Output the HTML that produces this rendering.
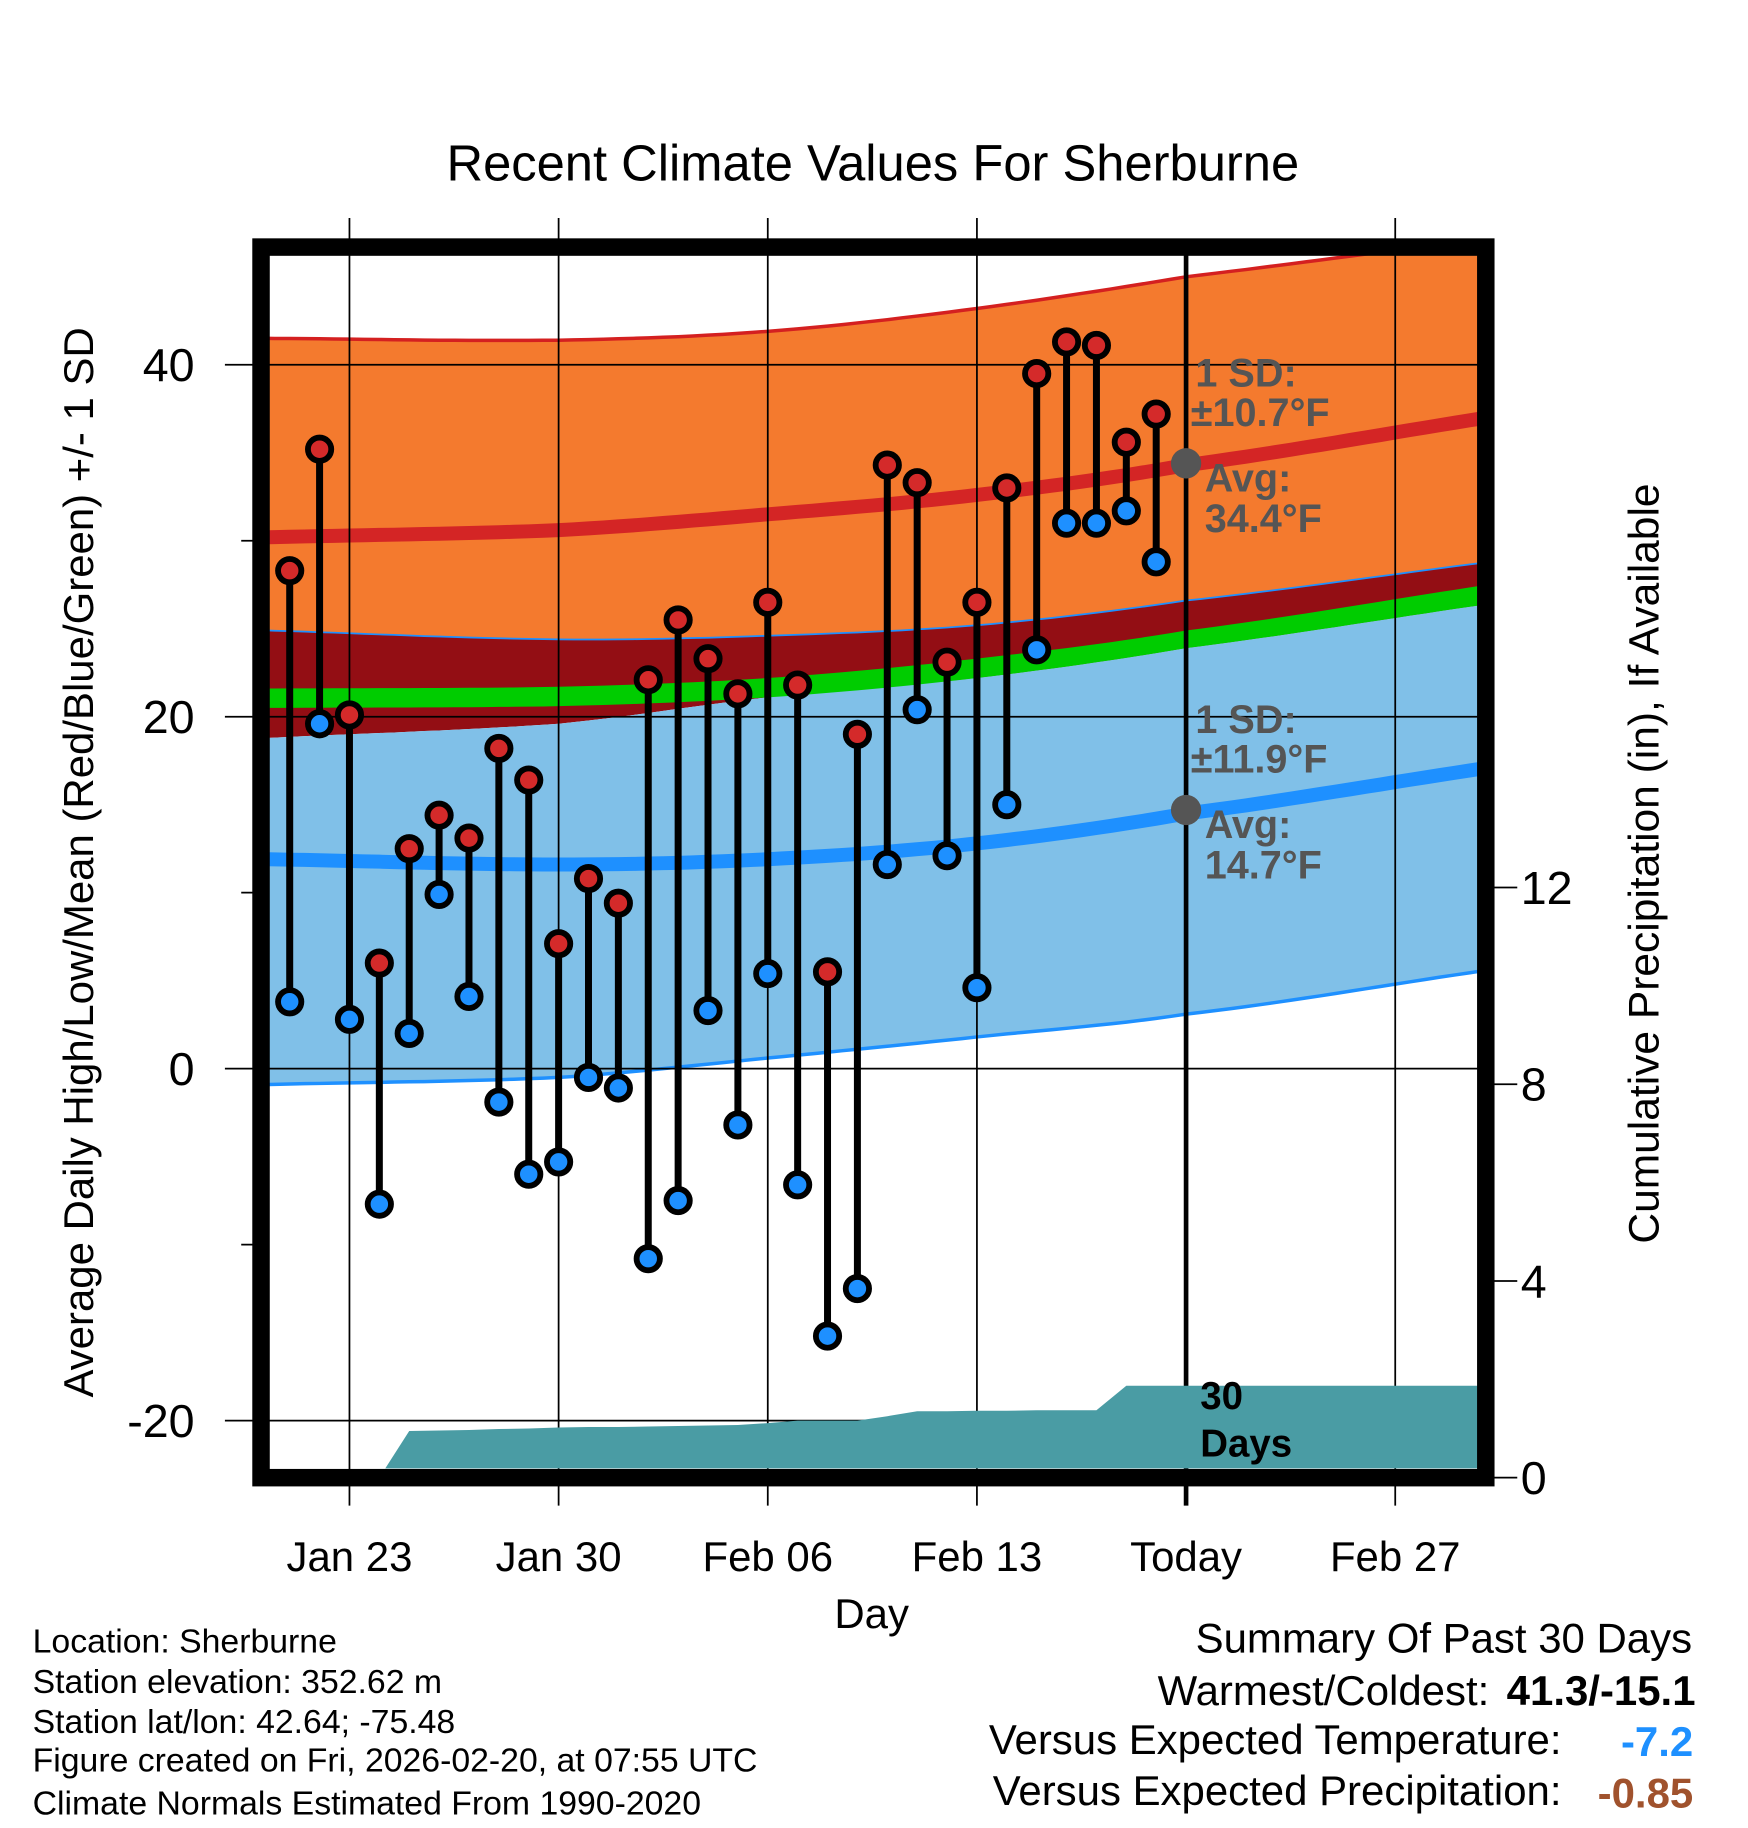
<!DOCTYPE html>
<html><head><meta charset="utf-8">
<style>
html,body{margin:0;padding:0;background:#fff;}
svg{display:block;font-family:"Liberation Sans",Arial,sans-serif;}
</style></head>
<body>
<svg id="chart" width="1748" height="1828" viewBox="0 0 1500 1568.6" xmlns="http://www.w3.org/2000/svg">
<defs><clipPath id="plotclip"><rect x="231" y="219" width="1037" height="1041"/></clipPath></defs>
<rect x="0" y="0" width="1500" height="1569" fill="#fff"/>
<text x="749" y="155" font-size="43.5" text-anchor="middle">Recent Climate Values For Sherburne</text>
<g id="bands" clip-path="url(#plotclip)"></g>
<g id="grid"></g>
<g id="precip" clip-path="url(#plotclip)"></g>
<g id="marks" clip-path="url(#plotclip)"></g>
<g id="annot"></g>
<rect x="224" y="212" width="1051" height="1056" fill="none" stroke="#000" stroke-width="15"/>
<text transform="translate(80,740) rotate(-90)" font-size="36" text-anchor="middle">Average Daily High/Low/Mean (Red/Blue/Green) +/- 1 SD</text>
<text transform="translate(1423,741) rotate(-90)" font-size="36.5" text-anchor="middle">Cumulative Precipitation (in), If Available</text>
<text x="748" y="1397" font-size="36" text-anchor="middle">Day</text>
<g font-size="29">
<text x="28" y="1418">Location: Sherburne</text>
<text x="28" y="1453">Station elevation: 352.62 m</text>
<text x="28" y="1487">Station lat/lon: 42.64; -75.48</text>
<text x="28" y="1520">Figure created on Fri, 2026-02-20, at 07:55 UTC</text>
<text x="28" y="1557">Climate Normals Estimated From 1990-2020</text>
</g>
<g font-size="36">
<text x="1452" y="1418" text-anchor="end">Summary Of Past 30 Days</text>
<text x="1278" y="1463" text-anchor="end">Warmest/Coldest:</text>
<text x="1455" y="1463" text-anchor="end" font-weight="bold">41.3/-15.1</text>
<text x="1340" y="1505" text-anchor="end">Versus Expected Temperature:</text>
<text x="1453" y="1507" text-anchor="end" font-weight="bold" fill="#1e90ff">-7.2</text>
<text x="1340" y="1549" text-anchor="end">Versus Expected Precipitation:</text>
<text x="1453" y="1551" text-anchor="end" font-weight="bold" fill="#a0522d">-0.85</text>
</g>
</svg>
<script>
// ---- data ----
const highs = [28.3,35.2,20.1,6.0,12.5,14.4,13.1,18.2,16.4,7.1,10.8,9.4,22.1,25.5,23.3,21.3,26.5,21.8,5.5,19.0,34.3,33.3,23.1,26.5,33.0,39.5,41.3,41.1,35.6,37.2];
const lows = [3.8,19.6,2.8,-7.7,2.0,9.9,4.1,-1.9,-6.0,-5.3,-0.5,-1.1,-10.8,-7.5,3.3,-3.2,5.4,-6.6,-15.2,-12.5,11.6,20.4,12.1,4.6,15.0,23.8,31.0,31.0,31.7,28.8];
const precipCum = [0,0,0,0,0.95,0.96,0.97,0.99,1.0,1.02,1.03,1.03,1.04,1.05,1.06,1.07,1.11,1.16,1.16,1.16,1.25,1.35,1.35,1.36,1.36,1.37,1.37,1.37,1.87,1.87];
// normals, sampled at day offsets from Jan 21
const normDays = [-0.7,9,16,23,30,39.7];
const hiSdTop = [41.5,41.4,41.9,43.2,45.0,47.1];
const normHigh = [30.2,30.6,31.5,32.6,34.3,36.9];
const hiSdBot = [24.9,24.4,24.6,25.2,26.6,28.7];
const meanTop = [21.6,21.7,22.2,23.3,24.9,27.4];
const meanBot = [20.5,20.6,21.1,22.2,23.9,26.3];
const loSdTop = [18.8,19.6,21.1,22.2,23.9,26.3];
const normLow = [11.9,11.6,11.9,12.8,14.5,17.0];
const loSdBot = [-0.9,-0.5,0.6,1.8,3.1,5.5];
const yTicks = [40,20,0,-20];
const yMinor = [30,10,-10];
const y2Ticks = [0,4,8,12];
const xTickLabels = ["Jan 23","Jan 30","Feb 06","Feb 13","Today","Feb 27"];
const xTickDays = [2,9,16,23,30,37];
const todayDay = 30;
const todayHighAvg = 34.4, todayLowAvg = 14.7;

// ---- axes ----
const X = d => 248.6 + d*25.64;
const Y = v => 917 - v*15.1;
const Y2 = p => 1268 - p*42.2;
const NS="http://www.w3.org/2000/svg";
function mk(tag, attrs, parent){const e=document.createElementNS(NS,tag);for(const k in attrs)e.setAttribute(k,attrs[k]);parent.appendChild(e);return e;}
function interp(arr, d){
  const n=normDays.length;
  let i=0;
  while(i<n-2 && d>normDays[i+1]) i++;
  const t=(d-normDays[i])/(normDays[i+1]-normDays[i]);
  const a=arr[i],b=arr[i+1];
  const a0=i>0?arr[i-1]:a-(b-a), b1=i<n-2?arr[i+2]:b+(b-a);
  const t2=t*t,t3=t2*t;
  return 0.5*((2*a)+(-a0+b)*t+(2*a0-5*a+4*b-b1)*t2+(-a0+3*a-3*b+b1)*t3);
}
const sampleD=[];for(let k=0;k<=84;k++)sampleD.push(-1+k*0.5);
function linePts(arr){return sampleD.map(d=>X(d).toFixed(1)+","+Y(interp(arr,d)).toFixed(1));}
function band(top,bot){return linePts(top).concat(linePts(bot).reverse()).join(" ");}

const bands=document.getElementById('bands');
let e;
e=mk('polygon',{points:band(hiSdTop,hiSdBot),fill:'#f47a2e'},bands);


e=mk('polygon',{points:band(hiSdBot,loSdTop),fill:'#930e14'},bands);


e=mk('polygon',{points:band(loSdTop,loSdBot),fill:'#80c0e8'},bands);


e=mk('polygon',{points:band(meanTop,meanBot),fill:'#00cc00'},bands);


e=mk('polyline',{points:linePts(hiSdTop).join(" "),fill:'none',stroke:'#d42020','stroke-width':3},bands);


e=mk('polyline',{points:linePts(hiSdBot).join(" "),fill:'none',stroke:'#1e90ff','stroke-width':1.5},bands);


e=mk('polyline',{points:linePts(loSdBot).join(" "),fill:'none',stroke:'#1e90ff','stroke-width':3},bands);


e=mk('polyline',{points:linePts(normHigh).join(" "),fill:'none',stroke:'#d42525','stroke-width':12},bands);


e=mk('polyline',{points:linePts(normLow).join(" "),fill:'none',stroke:'#1e90ff','stroke-width':12},bands);



// grid
const grid=document.getElementById('grid');
yTicks.forEach(v=>{
  e=mk('line',{x1:193,x2:1268,y1:Y(v),y2:Y(v),stroke:'#000','stroke-width':1.5},grid);
  
  
  e=mk('text',{x:167,y:Y(v)+14,'font-size':40,'text-anchor':'end'},grid);
  e.textContent=v;
  
  
});
yMinor.forEach(v=>{
  e=mk('line',{x1:207,x2:231,y1:Y(v),y2:Y(v),stroke:'#000','stroke-width':1.5},grid);
  
  
});
xTickDays.forEach((d,i)=>{
  const today=d===todayDay;
  e=mk('line',{x1:X(d),x2:X(d),y1:today?212:187,y2:1292,stroke:'#000','stroke-width':today?4:1.5},grid);
  
  
  e=mk('text',{x:X(d),y:1348,'font-size':36,'text-anchor':'middle'},grid);
  e.textContent=xTickLabels[i];
  
  
});
y2Ticks.forEach(p=>{
  e=mk('line',{x1:1282,x2:1302,y1:Y2(p),y2:Y2(p),stroke:'#000','stroke-width':1.5},grid);
  
  
  e=mk('text',{x:1305,y:Y2(p)+14,'font-size':40},grid);
  e.textContent=p;
  
  
});

// precip area
const pg=document.getElementById('precip');
let pp=[X(0)+","+Y2(0)];
precipCum.forEach((p,i)=>pp.push(X(i)+","+Y2(p)));
pp.push(X(41)+","+Y2(precipCum[precipCum.length-1]));
pp.push(X(41)+","+Y2(0));
e=mk('polygon',{points:pp.join(" "),fill:'#4a9ca4'},pg);



// marks
const mg=document.getElementById('marks');
highs.forEach((h,i)=>{
  const l=lows[i];
  e=mk('line',{x1:X(i),x2:X(i),y1:Y(h),y2:Y(l),stroke:'#000','stroke-width':6},mg);
  
  
  e=mk('circle',{cx:X(i),cy:Y(h),r:10,fill:'#d42a2a',stroke:'#000','stroke-width':5},mg);
  
  
  e=mk('circle',{cx:X(i),cy:Y(l),r:10,fill:'#1e90ff',stroke:'#000','stroke-width':5},mg);
  
  
});

// annotations
const ag=document.getElementById('annot');
[[todayHighAvg,"10.7","34.4"],[todayLowAvg,"11.9","14.7"]].forEach(([v,sd,avg])=>{
  const cx=X(todayDay),cy=Y(v);
  e=mk('circle',{cx:cx,cy:cy,r:13,fill:'#555'},ag);
  
  
  const lines=[["1 SD:",cx+8,cy-66],["\u00b1"+sd+"\u00b0F",cx+4,cy-32],["Avg:",cx+16,cy+24],[avg+"\u00b0F",cx+16,cy+59]];
  lines.forEach(([t,x,y])=>{
    e=mk('text',{x:x,y:y,'font-size':34,'font-weight':'bold',fill:'#555'},ag);
    e.textContent=t;
    
    
  });
});
e=mk('text',{x:1030,y:1209,'font-size':33,'font-weight':'bold'},ag);
e.textContent="30";


e=mk('text',{x:1030,y:1250,'font-size':33,'font-weight':'bold'},ag);
e.textContent="Days";


</script>
</body></html>
